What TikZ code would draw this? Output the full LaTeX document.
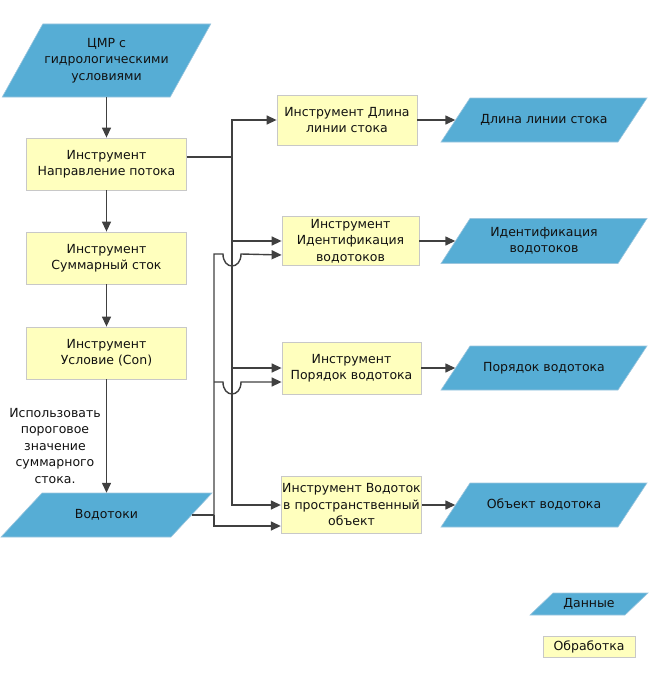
\documentclass[tikz,border=0pt]{standalone}
\usepackage{fontspec}
\setmainfont{DejaVu Sans}
\usetikzlibrary{arrows.meta,calc}
\definecolor{datablue}{HTML}{56ADD5}
\definecolor{dataedge}{HTML}{9CC6DE}
\definecolor{procyel}{HTML}{FFFFBE}
\definecolor{procedge}{HTML}{C8C8C8}
\definecolor{linegray}{HTML}{404040}
\definecolor{txt}{HTML}{111111}
\tikzset{
  txtfont/.style={font=\fontsize{12.5}{16.5}\selectfont, text=txt},
  proc/.style={txtfont, draw=procedge, fill=procyel, line width=0.8pt, align=center, inner sep=1pt},
  dlabel/.style={txtfont, align=center, inner sep=0pt},
  conn/.style={draw=linegray, line width=1.4pt, -{Triangle[length=10pt,width=9pt]}},
  plain/.style={draw=linegray, line width=1.4pt},
}
% name, cx, cy, mid width, height, slant, text
\newcommand{\dataparal}[7]{%
  \filldraw[fill=datablue, draw=dataedge, line width=0.6pt]
    ({#2-#4/2-#6/2},{#3+#5/2}) -- ({#2+#4/2-#6/2},{#3+#5/2}) --
    ({#2+#4/2+#6/2},{#3-#5/2}) -- ({#2-#4/2+#6/2},{#3-#5/2}) -- cycle;
  \node[dlabel, minimum width=#4pt, minimum height=#5pt] (#1) at (#2,#3) {#7};
}
\begin{document}
\begin{tikzpicture}[x=1pt,y=-1pt]
\useasboundingbox (0,0) rectangle (650,677);

% left column
\dataparal{dem}{106.5}{60.5}{168}{73}{40.5}{ЦМР с\\гидрологическими\\условиями}
\node[proc, minimum width=160pt, minimum height=52pt] (p1) at (106.5,164) {Инструмент\\Направление потока};
\node[proc, minimum width=160pt, minimum height=52pt] (p2) at (106.5,258) {Инструмент\\Суммарный сток};
\node[proc, minimum width=160pt, minimum height=52pt] (p3) at (106.5,353) {Инструмент\\Условие (Con)};
\dataparal{vod}{106.5}{515}{170}{44}{41}{Водотоки}
\node[txtfont, align=center, inner sep=0pt] (lbl) at (55,446) {Использовать\\пороговое\\значение\\суммарного\\стока.};

% right tools
\node[proc, minimum width=140pt, minimum height=50pt] (tA) at (347,120) {Инструмент Длина\\линии стока};
\node[proc, minimum width=137pt, minimum height=49pt] (tB) at (350.5,241) {Инструмент\\Идентификация\\водотоков};
\node[proc, minimum width=139pt, minimum height=52pt] (tC) at (351.5,368) {Инструмент\\Порядок водотока};
\node[proc, minimum width=139pt, minimum height=57pt] (tD) at (351.5,505) {Инструмент Водоток\\в пространственный\\объект};

% outputs
\dataparal{dA}{544}{120}{177}{44}{29}{Длина линии стока}
\dataparal{dB}{544}{241}{177}{45}{29}{Идентификация\\водотоков}
\dataparal{dC}{544}{368}{177}{44}{29}{Порядок водотока}
\dataparal{dD}{544}{505}{177}{44}{29}{Объект водотока}

% legend
\dataparal{legD}{589}{604}{95}{22}{23}{Данные}
\node[proc, minimum width=92pt, minimum height=21pt] (legP) at (589,646.5) {Обработка};

% left column connectors
\draw[conn] (dem.south) -- (p1.north);
\draw[conn] (p1.south) -- (p2.north);
\draw[conn] (p2.south) -- (p3.north);
\draw[conn] (p3.south) -- (vod.north);

% bus from flow direction
\coordinate (bus) at (232,157);
\draw[plain] ($(p1.east)+(0,-7)$) -- (bus);
\draw[conn] (bus) |- (tA.west);
\draw[conn] (bus) |- (tB.west);
\draw[conn] (bus) |- (tC.west);
\draw[conn] (bus) |- (tD.west);

% bus from streams
\coordinate (vbus) at (214,515);
\draw[plain] (vod.east) -- (vbus);
\draw[conn] (vbus) |- ($(tD.west)+(0,21)$);
\draw[conn] (vbus) -- (214,254) -- (223,254) .. controls (223,270) and (241,270) .. (241,254) -- ($(tB.west)+(0,14)$);
\draw[conn] (214,382) -- (223,382) .. controls (223,398) and (241,398) .. (241,382) -- ($(tC.west)+(0,14)$);

% outputs
\draw[conn] (tA.east) -- (dA.west);
\draw[conn] (tB.east) -- (dB.west);
\draw[conn] (tC.east) -- (dC.west);
\draw[conn] (tD.east) -- (dD.west);
\end{tikzpicture}
\end{document}
